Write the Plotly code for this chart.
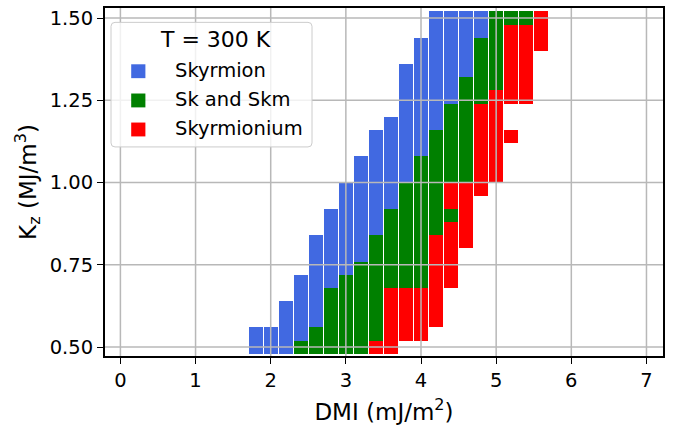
import plotly.graph_objects as go

# ---------------- data ----------------
DMI = [1.8, 2.0, 2.2, 2.4, 2.6, 2.8, 3.0, 3.2, 3.4, 3.6,
       3.8, 4.0, 4.2, 4.4, 4.6, 4.8, 5.0, 5.2, 5.4, 5.6]
KZ = [0.50, 0.54, 0.58, 0.62, 0.66, 0.70, 0.74, 0.78, 0.82, 0.86,
      0.90, 0.94, 0.98, 1.02, 1.06, 1.10, 1.14, 1.18, 1.22, 1.26,
      1.30, 1.34, 1.38, 1.42, 1.46, 1.50]
# phase of each cell, one string per DMI column, from Kz=0.50 (left) up to Kz=1.50
# B = Skyrmion, G = Sk and Skm, R = Skyrmionium, . = none
PHASES = [
    "BB... ..... ..... ..... ..... .",   # 1.8
    "BB... ..... ..... ..... ..... .",   # 2.0
    "BBBB. ..... ..... ..... ..... .",   # 2.2
    "GBBBB B.... ..... ..... ..... .",   # 2.4
    "GGBBB BBBB. ..... ..... ..... .",   # 2.6
    "GGGGG BBBBB B.... ..... ..... .",   # 2.8
    "GGGGG GBBBB BBB.. ..... ..... .",   # 3.0
    "GGGGG GGBBB BBBBB ..... ..... .",   # 3.2
    "RGGGG GGGGB BBBBB BB... ..... .",   # 3.4
    "RRRRR GGGGG GBBBB BBB.. ..... .",   # 3.6
    ".RRRR GGGGG GGGBB BBBBB BB... .",   # 3.8
    ".RRRR GGGGG GGGGG BBBBB BBBB. .",   # 4.0
    "..RRR RRRRG GGGGG GGBBB BBBBB B",   # 4.2
    "..... RRRRR GRRGG GGGGB BBBBB B",   # 4.4
    "..... ...RR RRRGG GGGGG GBBBB B",   # 4.6
    "..... ..... ..RRR RRRRG GGGGB B",   # 4.8
    "..... ..... ...RR RRRRR GGGGG G",   # 5.0
    "..... ..... ..... .R..R RRRRR G",   # 5.2
    "..... ..... ..... ....R RRRRR G",   # 5.4
    "..... ..... ..... ..... ...RR R",   # 5.6
]
PHASE_CODES = ["B", "G", "R"]
PHASE_NAMES = ["Skyrmion", "Sk and Skm", "Skyrmionium"]
PHASE_COLORS = ["#4169E1", "#008000", "#FF0000"]
LEGEND_TITLE = "T = 300 K"
X_TICKS = [0, 1, 2, 3, 4, 5, 6, 7]
Y_TICKS = [0.50, 0.75, 1.00, 1.25, 1.50]
Y_TICK_LABELS = ["0.50", "0.75", "1.00", "1.25", "1.50"]

# ---------------- layout geometry (pixels) ----------------
W, H = 679, 426
ML, MR, MT, MB = 105, 16, 5.5, 69.3
PW, PH = W - ML - MR, H - MT - MB


def px(xp):   # pixel x -> paper x
    return (xp - ML) / PW


def py(yp):   # pixel y (from top) -> paper y
    return (H - MB - yp) / PH


# ---------------- build ----------------
grid = [s.replace(" ", "") for s in PHASES]
for s in grid:
    assert len(s) == len(KZ), s
k_step = KZ[1] - KZ[0]
d_step = DMI[1] - DMI[0]

fig = go.Figure()
for code, color in zip(PHASE_CODES, PHASE_COLORS):
    xs, bases, hs = [], [], []
    for d, col in zip(DMI, grid):
        i = 0
        while i < len(col):
            if col[i] == code:
                j = i
                while j + 1 < len(col) and col[j + 1] == code:
                    j += 1
                lo = KZ[i] - k_step / 2
                hi = KZ[j] + k_step / 2
                xs.append(d)
                bases.append(lo)
                hs.append(hi - lo)
                i = j + 1
            else:
                i += 1
    fig.add_trace(go.Bar(
        x=xs, y=hs, base=bases, width=d_step * 0.94,
        marker=dict(color=color, line=dict(width=0)),
        opacity=1, showlegend=False, hoverinfo="skip"))

shapes = []
# grid lines drawn above the bars
for xv in X_TICKS:
    shapes.append(dict(type="line", xref="x", yref="paper", x0=xv, x1=xv, y0=0, y1=1,
                       line=dict(color="#b8b8b8", width=1.5), layer="above"))
for yv in Y_TICKS:
    shapes.append(dict(type="line", xref="paper", yref="y", x0=0, x1=1, y0=yv, y1=yv,
                       line=dict(color="#b8b8b8", width=1.5), layer="above"))

# legend box (rounded)
bx0, bx1, by0, by1, r = 111, 312, 20, 145.7, 4
path = (f"M {px(bx0 + r)},{py(by0)} L {px(bx1 - r)},{py(by0)} "
        f"Q {px(bx1)},{py(by0)} {px(bx1)},{py(by0 + r)} "
        f"L {px(bx1)},{py(by1 - r)} Q {px(bx1)},{py(by1)} {px(bx1 - r)},{py(by1)} "
        f"L {px(bx0 + r)},{py(by1)} Q {px(bx0)},{py(by1)} {px(bx0)},{py(by1 - r)} "
        f"L {px(bx0)},{py(by0 + r)} Q {px(bx0)},{py(by0)} {px(bx0 + r)},{py(by0)} Z")
shapes.append(dict(type="path", xref="paper", yref="paper", path=path,
                   fillcolor="rgba(255,255,255,0.8)", line=dict(color="#cccccc", width=1),
                   layer="above"))

FONT = "DejaVu Sans"
annotations = [dict(text=LEGEND_TITLE, xref="paper", yref="paper", x=px(215.5), y=py(37),
                    xanchor="center", yanchor="middle", showarrow=False,
                    font=dict(family=FONT, size=22, color="black"))]
row_y = [69.3, 98.8, 128.1]
for name, color, yc in zip(PHASE_NAMES, PHASE_COLORS, row_y):
    shapes.append(dict(type="rect", xref="paper", yref="paper",
                       x0=px(131.2), x1=px(145.4), y0=py(yc - 7), y1=py(yc + 7),
                       fillcolor=color, line=dict(width=0), layer="above"))
    annotations.append(dict(text=name, xref="paper", yref="paper", x=px(173), y=py(yc - 0.5),
                            xanchor="left", yanchor="middle", showarrow=False,
                            font=dict(family=FONT, size=19.5, color="black")))

axis_common = dict(
    showgrid=False, zeroline=False, showline=True, mirror=True,
    linecolor="black", linewidth=2, ticks="outside", ticklen=6, tickwidth=1.3,
    tickcolor="black", tickfont=dict(family=FONT, size=19.5, color="black"),
)
fig.update_layout(
    width=W, height=H,
    margin=dict(l=ML, r=MR, t=MT, b=MB),
    paper_bgcolor="white", plot_bgcolor="white",
    barmode="overlay", bargap=0, showlegend=False,
    shapes=shapes, annotations=annotations,
    font=dict(family=FONT, color="black"),
    xaxis=dict(range=[-0.205, 7.22], tickvals=X_TICKS,
               title=dict(text="DMI (mJ/m<sup>2</sup>)", font=dict(family=FONT, size=23), standoff=12),
               **axis_common),
    yaxis=dict(range=[0.4729, 1.5304], tickvals=Y_TICKS, ticktext=Y_TICK_LABELS,
               title=dict(text="K<sub>z</sub> (MJ/m<sup>3</sup>)", font=dict(family=FONT, size=23), standoff=7),
               **axis_common),
)

fig.write_html("out.html")
